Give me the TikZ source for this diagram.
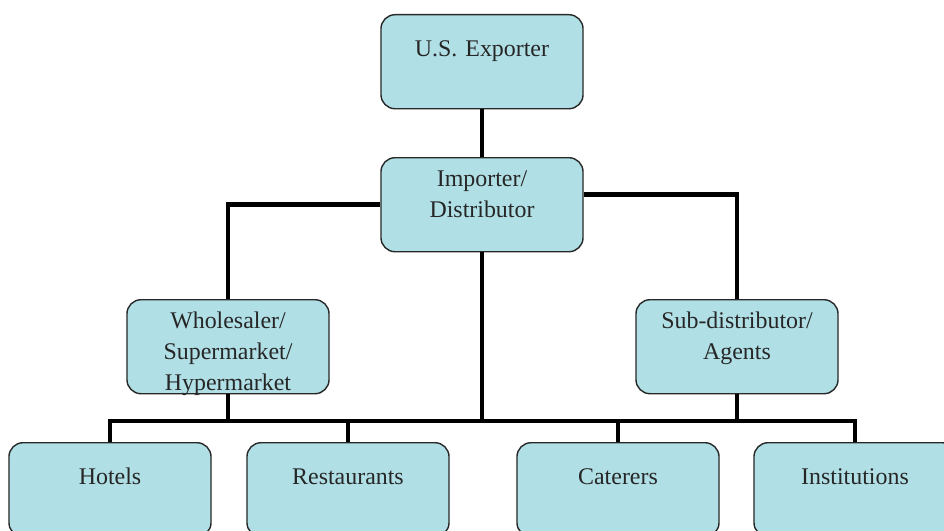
\documentclass[tikz,border=0pt]{standalone}
\usepackage{fontspec}
\setmainfont{Liberation Serif}
\usepackage{xcolor}
\usepackage{tikz}
\definecolor{boxfill}{RGB}{176,224,230}
\definecolor{boxline}{RGB}{40,40,40}

\begin{document}
\begin{tikzpicture}[x=0.025cm, y=-0.025cm,
        box/.style={draw=boxline, fill=boxfill, line width=1pt, rounded corners=10pt,
            text width=5.05cm, align=center, inner sep=0pt, anchor=north,
            text height=0.725cm, text depth=1.625cm, text=black!85,
            font=\fontsize{17}{22}\selectfont},
        single/.style={text height=1.05cm, text depth=1.3cm},
        link/.style={line width=3.5pt, line join=miter}]
        % Frame
        \useasboundingbox (0,0) rectangle (944,531);
        \clip (0,0) rectangle (944,531);

        % Draw boxes
        \node[box, single] (exp) at (482,14) {U.S. Exporter};
        \node[box] (imp) at (482,157) {Importer/\\Distributor};
        \node[box] (whole) at (228,299) {Wholesaler/\\Supermarket/\\Hypermarket};
        \node[box] (sub) at (737,299) {Sub-distributor/\\Agents};
        \node[box, single] (hot) at (110,442) {Hotels};
        \node[box, single] (rest) at (348,442) {Restaurants};
        \node[box, single] (cat) at (618,442) {Caterers};
        \node[box, single] (inst) at (855,442) {Institutions};
        \coordinate (bus) at (482,421);

        % Draw links
        \begin{scope}[on background layer/.try]
        \draw[link] (exp) -- (imp);
        \draw[link] (imp.west) -| (whole.north);
        \draw[link] ([yshift=0.25cm]imp.east) -| (sub.north);
        \draw[link] (imp.south) -- (bus);
        \draw[link] (whole.south) -- (whole.south |- bus);
        \draw[link] (sub.south) -- (sub.south |- bus);
        \draw[link] (hot.north) |- (inst.north |- bus) -- (inst.north);
        \draw[link] (rest.north |- bus) -- (rest.north);
        \draw[link] (cat.north |- bus) -- (cat.north);
        \end{scope}
    \end{tikzpicture}
\end{document}
